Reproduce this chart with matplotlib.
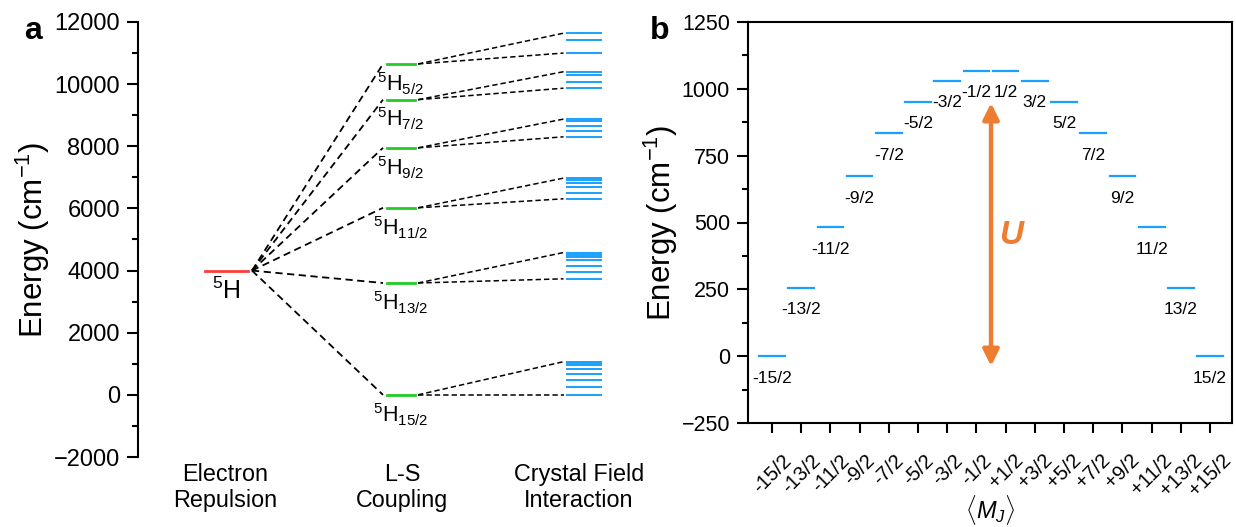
import matplotlib
matplotlib.use('Agg')
import matplotlib.pyplot as plt
from matplotlib.ticker import MultipleLocator

plt.rcParams['font.family'] = ['Liberation Sans', 'DejaVu Sans']
plt.rcParams['mathtext.fontset'] = 'custom'
plt.rcParams['mathtext.rm'] = 'Liberation Sans'
plt.rcParams['mathtext.it'] = 'Liberation Sans:italic'
plt.rcParams['mathtext.bf'] = 'Liberation Sans:bold'

# ---- panel a data ----
er_energy = 4000
ls_energies = [10650, 9500, 7950, 6020, 3600, 0]
ls_j = ['5/2', '7/2', '9/2', '11/2', '13/2', '15/2']
cf_levels = [
    [11640, 11435, 11000],
    [10400, 10300, 10065, 9870],
    [8875, 8820, 8660, 8490, 8305],
    [6975, 6910, 6815, 6675, 6500, 6310],
    [4580, 4515, 4450, 4325, 4150, 3950, 3735],
    [1068, 1030, 952, 833, 673, 482, 255, 0],
]
columns = ['Electron\nRepulsion', 'L-S\nCoupling', 'Crystal Field\nInteraction']

# ---- panel b data ----
mj_ticks = ['-15/2', '-13/2', '-11/2', '-9/2', '-7/2', '-5/2', '-3/2', '-1/2',
            '+1/2', '+3/2', '+5/2', '+7/2', '+9/2', '+11/2', '+13/2', '+15/2']
mj_energies = [0, 255, 482, 673, 833, 952, 1030, 1068,
               1068, 1030, 952, 833, 673, 482, 255, 0]
barrier = (-37, 947)

RED = '#FF3B3B'
GREEN = '#22CC22'
BLUE = '#1AA0FF'
ORANGE = '#ED7D31'

W, H = 1236, 527
fig = plt.figure(figsize=(W / 100, H / 100), dpi=100)

# ================= panel a =================
ax = fig.add_axes([138 / W, (H - 457) / H, (640 - 138) / W, (457 - 22) / H])
col_x = [226.5, 401, 583.5]
label_x = [225, 402, 579]
half = [21.5, 14, 17]

# electron repulsion level
ax.plot([col_x[0] - half[0], col_x[0] + half[0]], [er_energy, er_energy], color=RED, lw=2)
ax.text(col_x[0], er_energy - 220, r'$^5$H', ha='center', va='top', fontsize=18)

dash = (0, (4, 2.5))
for e, j, group in zip(ls_energies, ls_j, cf_levels):
    # L-S levels
    ax.plot([col_x[1] - half[1], col_x[1] + half[1]], [e, e], color=GREEN, lw=2)
    ax.text(col_x[1], e - 200, r'$^5$H$_{%s}$' % j, ha='center', va='top', fontsize=15.5)
    ax.plot([col_x[0] + half[0] + 4, col_x[1] - half[1] - 4], [er_energy, e],
            color='black', lw=1.3, linestyle=dash)
    # crystal field levels
    for c in group:
        ax.plot([col_x[2] - half[2], col_x[2] - 0.8], [c, c], color=BLUE, lw=1.4)
        ax.plot([col_x[2] + 0.8, col_x[2] + half[2]], [c, c], color=BLUE, lw=1.4)
    for c in (max(group), min(group)):
        ax.plot([col_x[1] + half[1] + 3, col_x[2] - half[2] - 3], [e, c],
                color='black', lw=1.1, linestyle=(0, (3.5, 2)))

ax.set_xlim(138, 640)
ax.set_ylim(-2000, 12000)
ax.yaxis.set_major_locator(MultipleLocator(2000))
ax.yaxis.set_minor_locator(MultipleLocator(1000))
ax.set_xticks(label_x)
ax.set_xticklabels(columns, fontsize=16.8, linespacing=1.2)
ax.tick_params(axis='x', length=0, pad=4)
ax.tick_params(axis='y', which='major', direction='out', length=8, width=1.5,
               labelsize=17, pad=5)
ax.tick_params(axis='y', which='minor', direction='out', length=4.5, width=1.5)
for s in ['top', 'right', 'bottom']:
    ax.spines[s].set_visible(False)
ax.spines['left'].set_linewidth(1.5)
ax.set_ylabel('Energy (cm$^{-1}$)', fontsize=22.5, labelpad=1)

# ================= panel b =================
bx = fig.add_axes([748 / W, (H - 423) / H, (1232 - 748) / W, (423 - 22) / H])
xs = range(len(mj_ticks))
for x, e, lab in zip(xs, mj_energies, mj_ticks):
    bx.plot([x - 0.44, x + 0.44], [e, e], color=BLUE, lw=1.6)
    bx.text(x, e - 82, lab.lstrip('+'), ha='center', va='center', fontsize=12.5)

bx.annotate('', xy=(7.5, barrier[1]), xytext=(7.5, barrier[0]),
            arrowprops=dict(arrowstyle='<|-|>', color=ORANGE, lw=3.2, mutation_scale=24,
                            shrinkA=0, shrinkB=0))
bx.text(8.2, 453, 'U', color=ORANGE, fontsize=24, fontweight='bold', fontstyle='italic',
        ha='center', va='center')

bx.set_xlim(-0.82, 15.75)
bx.set_ylim(-250, 1250)
bx.set_xticks(list(xs))
bx.set_xticklabels(mj_ticks, rotation=45, ha='center', va='top', fontsize=14.5)
bx.yaxis.set_major_locator(MultipleLocator(250))
bx.yaxis.set_minor_locator(MultipleLocator(125))
bx.tick_params(axis='x', direction='out', length=7, width=1.5, pad=13)
bx.tick_params(axis='y', which='major', direction='out', length=8, width=1.5,
               labelsize=15.5, pad=5)
bx.tick_params(axis='y', which='minor', direction='out', length=4.5, width=1.5)
for s in bx.spines.values():
    s.set_linewidth(1.5)
bx.set_ylabel('Energy (cm$^{-1}$)', fontsize=22.5, labelpad=1)
bx.set_xlabel(r'$\langle M_J \rangle$', fontsize=17, labelpad=-5)

fig.text(33 / W, 1 - 31 / H, 'a', fontsize=23, fontweight='bold', ha='center', va='center')
fig.text(660 / W, 1 - 31 / H, 'b', fontsize=23, fontweight='bold', ha='center', va='center')

fig.savefig('out.png', dpi=100)
